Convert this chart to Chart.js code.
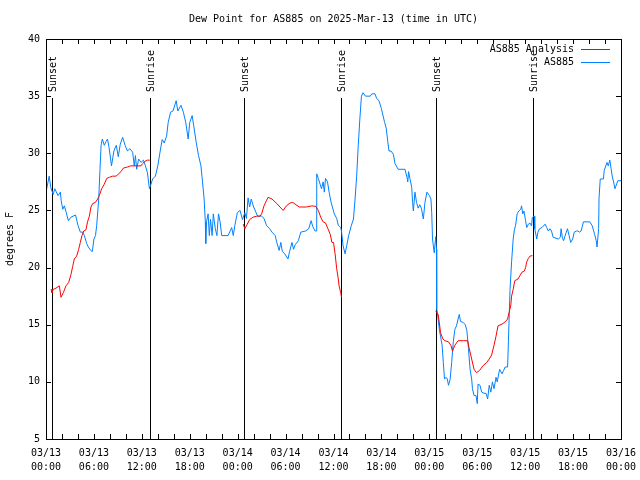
<!DOCTYPE html>
<html><head><meta charset="utf-8">
<script src="https://cdn.jsdelivr.net/npm/chart.js@4/dist/chart.umd.min.js"></script>
<style>html,body{margin:0;padding:0;background:#fff;}canvas{display:block;}</style>
</head><body>
<canvas id="c" width="640" height="480"></canvas>
<script>
const FONT = '"DejaVu Sans Mono", "Liberation Mono", monospace';
const chartTitle = 'Dew Point for AS885 on 2025-Mar-13 (time in UTC)';
const yAxisTitle = 'degrees F';
const monthLabel = '03';
const firstDay = 13;
const xRangeHours = [0, 72];
const xTickStepHours = 2;
const xLabelEveryHours = 6;
const yRange = [5, 40];
const yTickStep = 5;
const seriesNames = ['AS885 Analysis', 'AS885'];
const seriesColors = ['#ff0000', '#0080ff'];

const sunLabels = ['Sunset', 'Sunrise', 'Sunset', 'Sunrise', 'Sunset', 'Sunrise'];
const sunHours  = [0.79, 13.06, 24.83, 36.98, 48.88, 61.02];

// AS885 observations (hours since 03/13 00:00 UTC, dew point degF)
const obsHours = [
  0, 0.4, 0.6, 0.9, 1.1, 1.5, 1.8, 1.9, 2.1, 2.3,
  2.5, 2.8, 3.1, 3.7, 4.0, 4.3, 4.6, 4.8, 5.1, 5.3,
  5.6, 5.8, 6.0, 6.2, 6.35, 6.6, 6.76, 6.9, 7.05, 7.3,
  7.5, 7.7, 7.9, 8.2, 8.5, 8.8, 9.05, 9.3, 9.6, 9.9,
  10.2, 10.5, 10.85, 11.05, 11.2, 11.35, 11.6, 11.9, 12.2, 12.45,
  12.7, 12.95, 13.1, 13.35, 13.7, 14.0, 14.3, 14.55, 14.8, 15.1,
  15.3, 15.6, 15.9, 16.3, 16.5, 16.9, 17.2, 17.5, 17.8, 18.0,
  18.3, 18.5, 18.8, 19.1, 19.4, 19.6, 19.8, 19.95, 20.0, 20.1,
  20.3, 20.45, 20.6, 20.8, 20.95, 21.2, 21.4, 21.6, 21.8, 22.0,
  22.8, 23.25, 23.45, 23.65, 23.96, 24.3, 24.6, 24.9, 25.1, 25.3,
  25.5, 25.7, 26.0, 26.5, 27.0, 27.3, 27.6, 28.0, 28.3, 28.7,
  28.9, 29.2, 29.4, 29.6, 29.9, 30.3, 30.5, 30.8, 31.0, 31.2,
  31.6, 31.9, 32.5, 32.9, 33.2, 33.4, 33.7, 33.85, 33.9, 34.1,
  34.5, 34.7, 34.85, 35.0, 35.25, 35.45, 35.7, 36.1, 36.4, 36.6,
  36.9, 37.0, 37.2, 37.45, 37.65, 37.9, 38.2, 38.5, 38.7, 38.9,
  39.1, 39.3, 39.5, 39.7, 40.0, 40.6, 40.8, 41.2, 41.4, 41.7,
  42.0, 42.1, 42.4, 42.6, 42.8, 42.95, 43.2, 43.5, 43.7, 44.1,
  44.95, 45.2, 45.3, 45.4, 45.6, 45.8, 45.9, 46.0, 46.2, 46.4,
  46.6, 46.8, 47.0, 47.25, 47.45, 47.7, 48.0, 48.2, 48.3, 48.4,
  48.6, 48.65, 48.8, 48.9, 48.92, 49.0, 49.25, 49.4, 49.6, 49.75,
  49.9, 50.1, 50.25, 50.4, 50.6, 50.8, 51.0, 51.2, 51.4, 51.6,
  51.75, 51.9, 52.25, 52.5, 52.7, 52.9, 53.1, 53.3, 53.4, 53.6,
  53.85, 54.0, 54.1, 54.35, 54.55, 54.85, 55.1, 55.3, 55.5, 55.7,
  55.9, 56.1, 56.35, 56.5, 56.8, 57.1, 57.3, 57.5, 57.8, 57.9,
  58.1, 58.3, 58.5, 58.65, 58.8, 59.0, 59.2, 59.45, 59.55, 59.7,
  59.85, 60.05, 60.2, 60.4, 60.6, 60.8, 60.9, 61.15, 61.2, 61.45,
  61.6, 61.8, 62.1, 62.5, 62.7, 62.9, 63.1, 63.3, 63.5, 64.15,
  64.4, 64.5, 64.65, 64.8, 65.1, 65.3, 65.5, 65.7, 65.95, 66.15,
  66.4, 66.6, 66.8, 67.0, 67.3, 68.1, 68.4, 68.7, 68.9, 69.0,
  69.2, 69.25, 69.4, 69.8, 69.9, 70.1, 70.25, 70.4, 70.6, 70.75,
  70.9, 71.1, 71.25, 71.4, 71.6, 72.0
];
const obsDew = [
  26.6, 28.0, 27.0, 26.4, 26.9, 26.3, 26.6, 25.85, 25.1, 25.4,
  24.9, 24.1, 24.4, 24.6, 23.7, 23.1, 23.1, 22.8, 22.1, 21.8,
  21.5, 21.4, 22.5, 22.8, 23.7, 26.0, 28.6, 30.7, 31.25, 30.7,
  31.0, 31.25, 30.5, 28.9, 30.2, 30.7, 29.7, 30.8, 31.4, 30.7,
  30.2, 30.4, 30.1, 28.9, 29.8, 28.6, 29.5, 29.2, 29.4, 28.9,
  28.3, 26.9, 27.2, 27.75, 28.0, 28.9, 30.2, 31.2, 30.9, 31.5,
  32.7, 33.6, 33.7, 34.6, 33.7, 34.2, 33.6, 32.7, 31.25, 32.7,
  33.3, 32.4, 31.0, 29.8, 28.9, 27.5, 26.0, 24.0, 22.1, 24.0,
  24.7, 22.8, 24.25, 22.8, 24.7, 23.4, 22.8, 24.7, 24.0, 22.8,
  22.8, 23.5, 22.8, 23.7, 24.8, 25.0, 24.2, 24.8, 24.3, 26.1,
  25.3, 26.0, 25.3, 24.5, 24.5, 24.3, 23.7, 23.4, 23.1, 22.8,
  22.2, 21.5, 22.2, 21.4, 21.2, 20.75, 21.4, 22.2, 21.6, 22.0,
  22.35, 23.1, 23.2, 23.4, 24.1, 23.6, 23.2, 23.2, 28.2, 27.8,
  26.9, 27.5, 26.6, 27.8, 27.5, 26.6, 25.7, 24.7, 24.3, 23.7,
  23.5, 23.2, 21.9, 21.2, 21.9, 22.8, 23.6, 24.25, 26.0, 28.0,
  30.7, 33.0, 35.0, 35.3, 35.0, 35.0, 35.2, 35.2, 34.8, 34.6,
  33.9, 33.6, 32.7, 32.2, 31.0, 30.2, 30.2, 29.9, 29.1, 28.6,
  28.6, 27.9, 27.5, 28.4, 27.7, 27.0, 25.7, 24.95, 26.6, 25.7,
  25.2, 25.5, 25.2, 24.25, 25.7, 26.6, 26.3, 26.0, 24.8, 22.5,
  21.3, 21.6, 22.7, 21.6, 16.4, 16.1, 14.6, 14.0, 13.2, 11.7,
  10.25, 10.4, 10.25, 9.7, 10.2, 11.7, 13.5, 14.6, 14.9, 15.5,
  15.9, 15.3, 15.2, 15.0, 14.5, 12.9, 11.1, 10.25, 9.4, 8.8,
  8.8, 8.1, 9.8, 9.7, 9.1, 9.0, 9.0, 8.5, 9.7, 9.1,
  10.0, 9.4, 10.4, 10.0, 11.1, 10.7, 11.0, 11.3, 11.3, 13.5,
  18.0, 20.5, 22.5, 23.3, 23.7, 24.7, 24.95, 25.1, 25.4, 24.7,
  24.95, 24.1, 23.5, 23.8, 23.9, 23.65, 24.4, 24.5, 23.4, 22.5,
  23.1, 23.4, 23.5, 23.8, 23.5, 23.2, 23.4, 23.2, 22.65, 22.5,
  22.65, 23.4, 22.65, 22.35, 23.0, 23.4, 22.8, 22.2, 22.5, 23.1,
  23.2, 23.2, 23.1, 23.2, 24.0, 24.0, 23.65, 22.9, 22.35, 21.8,
  23.4, 26.1, 27.75, 27.75, 28.5, 28.9, 29.2, 28.9, 29.4, 28.7,
  28.0, 27.4, 26.9, 27.2, 27.6, 27.6
];

// AS885 Analysis (null = no analysis, gap in line)
const anaHours = [
  0.63, 0.75, 0.92, 1.25, 1.67, 1.88, 2.17, 2.5, 2.84, 3.13,
  3.34, 3.55, 3.84, 4.09, 4.3, 4.5, 4.72, 5.0, 5.2, 5.43,
  5.63, 5.84, 6.18, 6.47, 6.68, 6.97, 7.3, 7.6, 7.93, 8.35,
  8.77, 9.1, 9.39, 9.68, 10.2, 10.6, 11.3, 11.9, 12.1, 12.4,
  12.7, 13.0, 18.0,
  24.7, 24.9, 25.2, 25.5, 25.9, 26.4, 26.8, 27.0, 27.3, 27.6,
  27.8, 28.3, 28.9, 29.3, 29.7, 30.1, 30.55, 30.9, 31.3, 31.7,
  32.6, 33.3, 33.8, 34.1, 34.4, 34.7, 35.0, 35.3, 35.6, 35.8,
  36.0, 36.2, 36.4, 36.6, 36.7, 36.9, 37.0, 42.0,
  48.8, 49.1, 49.25, 49.4, 49.7, 49.95, 50.4, 50.7, 50.9, 51.2,
  51.6, 52.25, 52.8, 53.0, 53.3, 53.6, 53.9, 54.3, 54.7, 55.2,
  55.5, 55.8, 56.1, 56.35, 56.6, 57.1, 57.5, 57.8, 58.0, 58.2,
  58.3, 58.5, 58.7, 59.1, 59.35, 59.6, 59.9, 60.05, 60.2, 60.4,
  60.6, 60.9
];
const anaDew = [
  18.1, 17.8, 18.1, 18.2, 18.4, 17.4, 17.8, 18.4, 18.7, 19.4,
  20.1, 20.75, 21.0, 21.6, 22.2, 22.8, 23.2, 23.3, 24.0, 24.5,
  25.3, 25.6, 25.7, 26.0, 26.3, 26.9, 27.3, 27.8, 27.9, 28.0,
  28.0, 28.2, 28.4, 28.7, 28.8, 28.9, 28.9, 28.9, 29.1, 29.3,
  29.4, 29.4, null,
  23.8, 23.4, 23.8, 24.2, 24.4, 24.5, 24.5, 24.7, 25.4, 25.85,
  26.15, 26.0, 25.6, 25.3, 25.0, 25.4, 25.65, 25.7, 25.5, 25.3,
  25.3, 25.4, 25.35, 25.0, 24.4, 24.0, 23.9, 23.4, 22.9, 22.2,
  22.2, 21.2, 19.9, 19.0, 18.4, 17.8, 17.4, null,
  16.2, 15.9, 15.2, 14.3, 13.75, 13.6, 13.5, 13.2, 12.7, 13.2,
  13.6, 13.6, 13.6, 12.9, 12.0, 11.1, 10.8, 11.0, 11.4, 11.7,
  12.0, 12.35, 13.2, 14.0, 14.9, 15.05, 15.25, 15.5, 16.1, 16.7,
  17.5, 18.1, 18.85, 19.0, 19.3, 19.6, 19.7, 20.0, 20.5, 20.8,
  21.0, 21.05
];

const toPoints = (xs, ys) => xs.map((h, i) => ({ x: h, y: ys[i] }));
const pad2 = n => String(n).padStart(2, '0');
function xTickLabel(h) {
  if (h % xLabelEveryHours !== 0) return '';
  const day = firstDay + Math.floor(h / 24);
  return [monthLabel + '/' + pad2(day), pad2(h % 24) + ':00'];
}

const decor = {
  id: 'decor',
  beforeDatasetsDraw(chart) {
    const { ctx, chartArea: a, scales: { x } } = chart;
    ctx.save();
    ctx.strokeStyle = '#000';
    ctx.lineWidth = 1;
    ctx.fillStyle = '#000';
    ctx.font = '10px ' + FONT;
    sunHours.forEach((h, i) => {
      const px = Math.round(x.getPixelForValue(h)) + 0.5;
      ctx.beginPath();
      ctx.moveTo(px, a.top + 59);
      ctx.lineTo(px, a.bottom);
      ctx.stroke();
      ctx.save();
      ctx.translate(px + 1, a.top + 53);
      ctx.rotate(-Math.PI / 2);
      ctx.textAlign = 'left';
      ctx.textBaseline = 'middle';
      ctx.fillText(sunLabels[i], 0, 0);
      ctx.restore();
    });
    ctx.restore();
  },
  afterDatasetsDraw(chart) {
    const { ctx, chartArea: a, scales: { x, y } } = chart;
    ctx.save();
    ctx.strokeStyle = '#000';
    ctx.lineWidth = 1;
    const seg = (x1, y1, x2, y2) => { ctx.beginPath(); ctx.moveTo(x1, y1); ctx.lineTo(x2, y2); ctx.stroke(); };
    // frame
    ctx.strokeRect(a.left + 0.5, a.top + 0.5, a.right - a.left, a.bottom - a.top);
    // inward ticks
    x.ticks.forEach(t => {
      const px = Math.round(x.getPixelForValue(t.value)) + 0.5;
      seg(px, a.bottom, px, a.bottom - 5);
      seg(px, a.top, px, a.top + 5);
    });
    y.ticks.forEach(t => {
      const py = Math.round(y.getPixelForValue(t.value)) + 0.5;
      seg(a.left, py, a.left + 5, py);
      seg(a.right, py, a.right - 5, py);
    });
    // legend (gnuplot style: text then sample line)
    ctx.font = '10px ' + FONT;
    ctx.fillStyle = '#000';
    ctx.textAlign = 'right';
    ctx.textBaseline = 'middle';
    seriesNames.forEach((name, i) => {
      const ly = a.top + 10.5 + i * 13;
      ctx.fillText(name, a.right - 47, ly);
      ctx.strokeStyle = seriesColors[i];
      seg(a.right - 40, ly, a.right - 11, ly);
    });
    // title
    ctx.textAlign = 'center';
    ctx.fillText(chartTitle, (a.left + a.right) / 2, 19);
    // y axis title
    ctx.save();
    ctx.translate(10, (a.top + a.bottom) / 2);
    ctx.rotate(-Math.PI / 2);
    ctx.fillText(yAxisTitle, 0, 0);
    ctx.restore();
    ctx.restore();
  }
};

new Chart(document.getElementById('c'), {
  type: 'line',
  data: {
    datasets: [
      { label: seriesNames[0], data: toPoints(anaHours, anaDew), borderColor: seriesColors[0],
        borderWidth: 1, pointRadius: 0, tension: 0, spanGaps: false, fill: false },
      { label: seriesNames[1], data: toPoints(obsHours, obsDew), borderColor: seriesColors[1],
        borderWidth: 1, pointRadius: 0, tension: 0, fill: false }
    ]
  },
  options: {
    responsive: false,
    animation: false,
    devicePixelRatio: 1,
    layout: { padding: { left: 0, right: 19, top: 39, bottom: 0 } },
    plugins: { legend: { display: false }, title: { display: false }, tooltip: { enabled: false } },
    scales: {
      x: {
        type: 'linear', min: xRangeHours[0], max: xRangeHours[1],
        grid: { display: false, drawTicks: false }, border: { display: false },
        ticks: { stepSize: xTickStepHours, autoSkip: false, maxRotation: 0, minRotation: 0,
                 padding: 7, color: '#000', font: { family: FONT, size: 10, lineHeight: 1.4 },
                 callback: v => xTickLabel(v) },
        afterFit: s => { s.height = 41; s.paddingLeft = 0; s.paddingRight = 0; }
      },
      y: {
        min: yRange[0], max: yRange[1],
        grid: { display: false, drawTicks: false }, border: { display: false },
        ticks: { stepSize: yTickStep, padding: 6, color: '#000', font: { family: FONT, size: 10 } },
        afterFit: s => { s.width = 46; s.paddingTop = 0; s.paddingBottom = 0; }
      }
    }
  },
  plugins: [decor]
});
</script>
</body></html>
